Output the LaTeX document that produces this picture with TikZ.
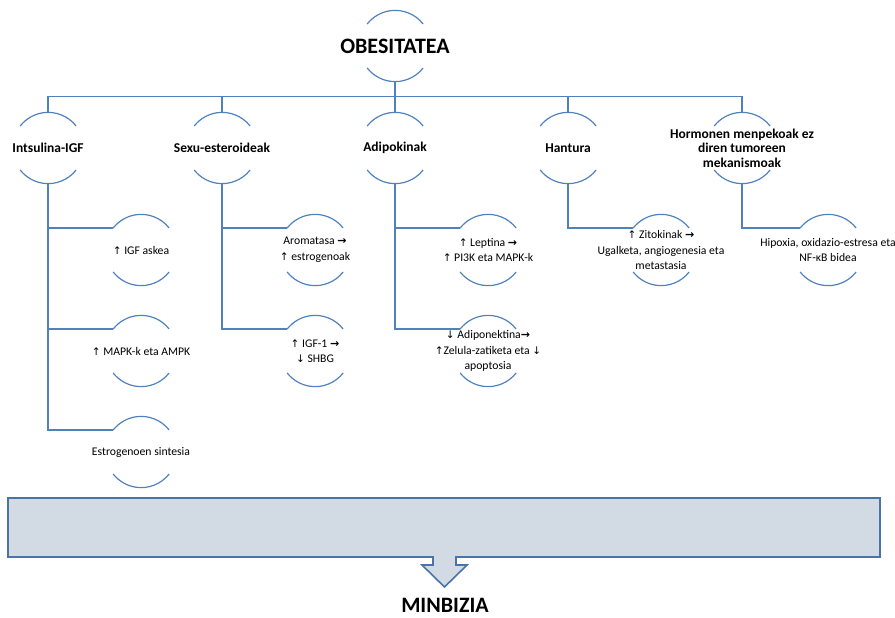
\documentclass[tikz,border=0pt]{standalone}
\usepackage{fontspec}
\setmainfont{Carlito}
\newfontfamily\arrfont{DejaVu Sans}
\definecolor{lnblue}{RGB}{79,129,189}
\definecolor{boxfill}{RGB}{210,218,228}
\definecolor{boxline}{RGB}{74,116,168}
\newcommand{\upar}{{\arrfont\fontsize{10.5}{12}\selectfont ↑}}
\newcommand{\dnar}{{\arrfont\fontsize{10.5}{12}\selectfont ↓}}
\newcommand{\rar}{{\arrfont\bfseries\fontsize{11}{12}\selectfont →}}
\tikzset{
  hub/.style={circle, minimum size=71pt, inner sep=0pt, draw=none},
  arcline/.style={draw=lnblue, line width=1.2pt},
  conn/.style={draw=lnblue, line width=1.2pt},
  ttl/.style={font=\fontsize{22}{26}\selectfont\bfseries, inner sep=0pt},
  cat/.style={font=\fontsize{13.5}{14.5}\selectfont\bfseries, align=center, inner sep=0pt},
  leaf/.style={font=\fontsize{11.7}{15.5}\selectfont, align=center, inner sep=0pt},
  bigbox/.style={draw=boxline, fill=boxfill, line width=1.6pt, line join=miter},
}
\newcommand{\hubarcs}[1]{%
  \draw[arcline] (#1.38) arc[start angle=38, end angle=142, radius=35.5pt];
  \draw[arcline] (#1.-38) arc[start angle=-38, end angle=-142, radius=35.5pt];}
\begin{document}
\begin{tikzpicture}[x=1pt, y=-1pt]
\useasboundingbox (0,0) rectangle (895,618);
% top
\node[hub] (n0) at (395,46) {};
\node[ttl] (t0) at (n0) {OBESITATEA};
% level 2
\node[hub] (a) at (48,148) {};
\node[hub] (b) at (222,148) {};
\node[hub] (c) at (395,148) {};
\node[hub] (d) at (568,148) {};
\node[hub] (e) at (742,148) {};
\node[cat] (ta) at (a) {Intsulina-IGF};
\node[cat] (tb) at (b) {Sexu-esteroideak};
\node[cat] (tc) at (c) {Adipokinak};
\node[cat] (td) at (d) {Hantura};
\node[cat] (te) at (e) {Hormonen menpekoak ez\\diren tumoreen\\mekanismoak};
% level 3
\node[hub] (a1) at (141,250) {};
\node[hub] (a2) at (141,351) {};
\node[hub] (a3) at (141,452) {};
\node[hub] (b1) at (315,250) {};
\node[hub] (b2) at (315,351) {};
\node[hub] (c1) at (488,250) {};
\node[hub] (c2) at (488,351) {};
\node[hub] (d1) at (661,250) {};
\node[hub] (e1) at (828,250) {};
\node[leaf] (ta1) at (a1) {\upar\ IGF askea};
\node[leaf] (ta2) at (a2) {\upar\ MAPK-k eta AMPK};
\node[leaf] (ta3) at (a3) {Estrogenoen sintesia};
\node[leaf] (tb1) at (b1) {Aromatasa \rar\\\upar\ estrogenoak};
\node[leaf] (tb2) at (b2) {\upar\ IGF-1 \rar\\\dnar\ SHBG};
\node[leaf] (tc1) at (c1) {\upar\ Leptina \rar\\\upar\ PI3K eta MAPK-k};
\node[leaf] (tc2) at (c2) {\dnar\ Adiponektina\rar\\\upar Zelula-zatiketa eta \dnar\\apoptosia};
\node[leaf] (td1) at (d1) {\upar\ Zitokinak \rar\\Ugalketa, angiogenesia eta\\metastasia};
\node[leaf] (te1) at (e1) {Hipoxia, oxidazio-estresa eta\\NF-κB bidea};
% arcs
\foreach \n in {n0,a,b,c,d,e,a1,a2,a3,b1,b2,c1,c2,d1,e1}{\hubarcs{\n}}
% connectors level 1 -> 2
\foreach \n in {a,b,c,d,e}{\draw[conn] (n0.south) -- ++(0,15) -| (\n.north);}
% connectors level 2 -> 3
\draw[conn] (a.south) |- (a1.142);
\draw[conn] (a.south) |- (a2.142);
\draw[conn] (a.south) |- (a3.142);
\draw[conn] (b.south) |- (b1.142);
\draw[conn] (b.south) |- (b2.142);
\draw[conn] (c.south) |- (c1.142);
\draw[conn] (c.south) |- (c2.142);
\draw[conn] (d.south) |- (d1.142);
\draw[conn] (e.south) |- (e1.142);
% bottom box with arrow
\draw[bigbox] (8,498) -- (880,498) -- (880,557) -- (456,557) -- (456,565) -- (467,565)
  -- (444.5,587) -- (422,565) -- (433,565) -- (433,557) -- (8,557) -- cycle;
\node[ttl] (res) at (445,605) {MINBIZIA};
\end{tikzpicture}
\end{document}
